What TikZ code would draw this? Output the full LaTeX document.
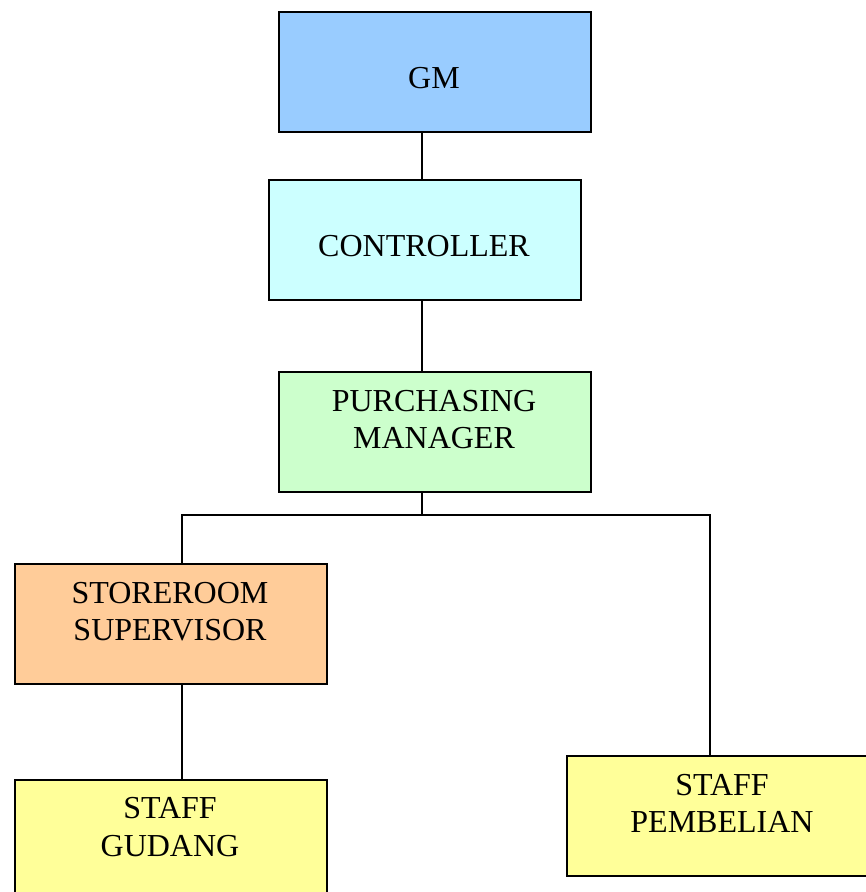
\documentclass[tikz,border=0pt]{standalone}
\usepackage{fontspec}
\setmainfont{Liberation Serif}
\definecolor{gmblue}{HTML}{99CCFF}
\definecolor{ctrlcyan}{HTML}{CCFFFF}
\definecolor{pmgreen}{HTML}{CCFFCC}
\definecolor{ssorange}{HTML}{FFCC99}
\definecolor{staffyellow}{HTML}{FFFF99}
\begin{document}
\begin{tikzpicture}[x=1pt,y=-1pt,
  box/.style={draw=black, line width=2pt, minimum width=312pt, minimum height=120pt,
              inner sep=0pt, anchor=north west},
  lbl/.style={font=\fontsize{32}{38}\selectfont, anchor=base, inner sep=0pt},
  link/.style={draw=black, line width=2pt}]
\useasboundingbox (0,0) rectangle (866,892);

% boxes of the chart
\node[box, fill=gmblue]      (gm)   at (278,11)  {};
\node[box, fill=ctrlcyan]    (ctrl) at (268,179) {};
\node[box, fill=pmgreen]     (pm)   at (278,371) {};
\node[box, fill=ssorange]    (ss)   at (14,563)  {};
\node[box, fill=staffyellow] (sg)   at (14,779)  {};
\node[box, fill=staffyellow] (sp)   at (566,755) {};

% labels
\node[lbl] (gmt)   at (434,88)  {GM};
\node[lbl] (ctrlt) at (424,256) {CONTROLLER};
\node[lbl] (pmt1)  at (434,411) {PURCHASING};
\node[lbl] (pmt2)  at (434,448) {MANAGER};
\node[lbl] (sst1)  at (170,603) {STOREROOM};
\node[lbl] (sst2)  at (170,640) {SUPERVISOR};
\node[lbl] (sgt1)  at (170,818) {STAFF};
\node[lbl] (sgt2)  at (170,856) {GUDANG};
\node[lbl] (spt1)  at (722,795) {STAFF};
\node[lbl] (spt2)  at (722,832) {PEMBELIAN};

% reporting lines
\coordinate (spine) at (422,515);
\coordinate (lb) at (182,515);
\coordinate (rb) at (710,515);
\draw[link] (spine |- gm.south) -- (spine |- ctrl.north);
\draw[link] (spine |- ctrl.south) -- (spine |- pm.north);
\draw[link] (spine |- pm.south) -- (spine);
\draw[link] (lb |- ss.north) -- (lb) -- (rb) -- (rb |- sp.north);
\draw[link] (lb |- ss.south) -- (lb |- sg.north);
\end{tikzpicture}
\end{document}
